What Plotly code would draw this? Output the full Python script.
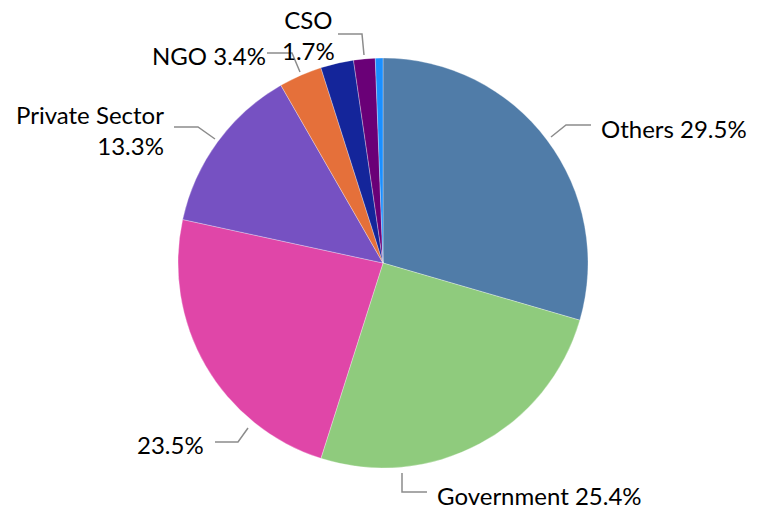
import plotly.graph_objects as go

# ---- data ----
categories = ["Others", "Government", "Other", "Private Sector", "NGO", "Academia", "CSO", "Media"]
values = [29.5, 25.4, 23.5, 13.3, 3.4, 2.6, 1.7, 0.6]
label_texts = ["Others 29.5%", "Government 25.4%", "23.5%", "Private Sector<br>13.3%",
               "NGO 3.4%", "", "CSO<br>1.7%", ""]
colors = ["#507CA8", "#8FCB7D", "#E046A8", "#7651C2", "#E5703A", "#14259A", "#6A0077", "#1A8FFF"]

W, H = 764, 509
CX, CY, R = 383, 263, 205

fig = go.Figure(go.Pie(
    labels=categories,
    values=values,
    sort=False,
    direction="clockwise",
    rotation=0,
    marker=dict(colors=colors, line=dict(color="rgba(255,255,255,0.6)", width=0.5)),
    textinfo="none",
    hoverinfo="label+percent",
    showlegend=False,
    domain=dict(x=[(CX - R) / W, (CX + R) / W], y=[1 - (CY + R) / H, 1 - (CY - R) / H]),
))

# label placement (pixel coords) -- layout only
label_layout = {
    "Others": dict(x=599, y=128, xanchor="left", align="left"),
    "Government": dict(x=435, y=495, xanchor="left", align="left"),
    "Other": dict(x=206, y=444, xanchor="right", align="right"),
    "Private Sector": dict(x=166, y=130, xanchor="right", align="right"),
    "NGO": dict(x=150, y=56, xanchor="left", align="left"),
    "CSO": dict(x=308, y=35, xanchor="center", align="center"),
}
leaders = {
    "Others": [(551, 137), (566, 125), (591, 125)],
    "Government": [(402, 473), (402, 492), (427, 492)],
    "Other": [(215, 442), (238, 442), (248, 428)],
    "Private Sector": [(174, 127), (198, 127), (215, 139)],
    "NGO": [(267, 53), (292, 53), (300, 72)],
    "CSO": [(338, 34), (362, 34), (364, 55)],
}

def px(x):
    return x / W

def py(y):
    return 1 - y / H

annotations = []
shapes = []
for cat, txt in zip(categories, label_texts):
    if not txt or cat not in label_layout:
        continue
    L = label_layout[cat]
    annotations.append(dict(
        x=px(L["x"]), y=py(L["y"]), xref="paper", yref="paper",
        text=txt, showarrow=False, xanchor=L["xanchor"], yanchor="middle",
        align=L["align"], font=dict(family="Lato", size=24, color="#000000"),
    ))
    pts = leaders[cat]
    path = "M " + " L ".join(f"{px(a):.5f},{py(b):.5f}" for a, b in pts)
    shapes.append(dict(type="path", path=path, xref="paper", yref="paper",
                       line=dict(color="#8C8C8C", width=1.5)))

fig.update_layout(
    width=W, height=H,
    margin=dict(l=0, r=0, t=0, b=0),
    paper_bgcolor="white", plot_bgcolor="white",
    annotations=annotations,
    shapes=shapes,
)

fig.write_html("out.html",
               config={"displayModeBar": False},
               post_script="document.body.style.margin='0';document.body.style.overflow='hidden';")
